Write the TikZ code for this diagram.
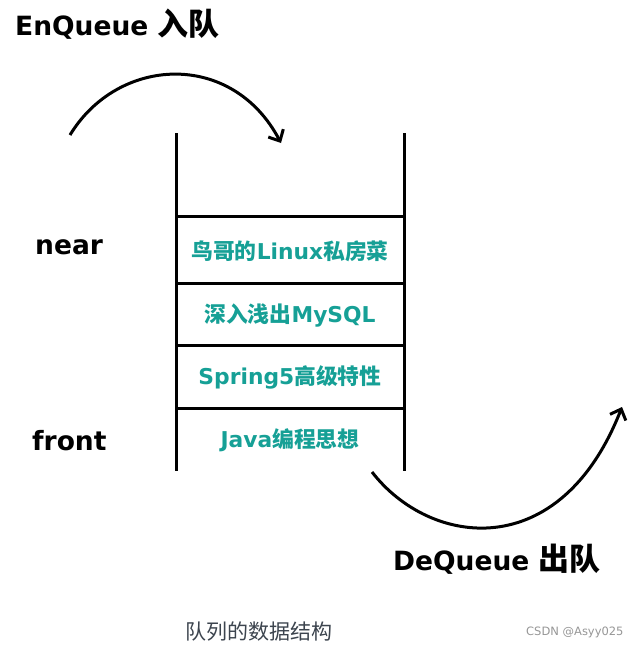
\documentclass[tikz,border=0pt]{standalone}
\usepackage{fontspec}
\usetikzlibrary{arrows.meta}
\newfontfamily\latf{DejaVu Sans}
\newfontfamily\cjkf{Noto Sans CJK SC}
\definecolor{bookteal}{RGB}{22,160,150}
\definecolor{capgray}{RGB}{60,68,78}
\definecolor{wmgray}{RGB}{150,150,150}
\newcommand\cj[1]{{\cjkf #1}}
\newcommand\bigcj[1]{{\cjkf\fontsize{31}{32}\selectfont #1}}
\begin{document}
\begin{tikzpicture}[x=1pt,y=-1pt,
  stackline/.style={line width=3pt,black},
  book/.style={text=bookteal,font={\latf\bfseries\fontsize{21.8}{25}\selectfont},inner sep=0pt,anchor=base},
  biglabel/.style={font={\latf\bfseries\fontsize{26.5}{30}\selectfont},inner sep=0pt,anchor=base west},
  flow/.style={line width=3pt,-{Straight Barb[length=9pt,width=17pt]}}]
\useasboundingbox (0,0) rectangle (636,648);
% stack walls
\coordinate (tl) at (176,133);
\coordinate (bl) at (176,471);
\coordinate (tr) at (404,133);
\coordinate (br) at (404,471);
\draw[stackline] (tl) -- (bl);
\draw[stackline] (tr) -- (br);
% separators
\coordinate (l1) at (176,216); \coordinate (r1) at (404,216);
\coordinate (l2) at (176,283); \coordinate (r2) at (404,283);
\coordinate (l3) at (176,345); \coordinate (r3) at (404,345);
\coordinate (l4) at (176,408); \coordinate (r4) at (404,408);
\draw[stackline] (l1) -- (r1);
\draw[stackline] (l2) -- (r2);
\draw[stackline] (l3) -- (r3);
\draw[stackline] (l4) -- (r4);
% books
\node[book] (b1) at (290,259) {\cj{鸟哥的}Linux\cj{私房菜}};
\node[book] (b2) at (290,322) {\cj{深入浅出}MySQL};
\node[book] (b3) at (290,384) {Spring5\cj{高级特性}};
\node[book] (b4) at (290,447) {Java\cj{编程思想}};
% labels
\node[biglabel] (enq) at (15,35) {EnQueue \bigcj{入队}};
\node[biglabel] (near) at (35,254) {near};
\node[biglabel] (front) at (32,450) {front};
\node[biglabel] (deq) at (393,570) {DeQueue \bigcj{出队}};
% arrows
\coordinate (ein) at (70,135);
\coordinate (eout) at (281,143);
\draw[flow] (ein) .. controls (118,56) and (232,50) .. (eout);
\coordinate (din) at (372,472);
\coordinate (dout) at (622,407);
\draw[flow] (din) .. controls (430,547) and (560,565) .. (dout);
% caption and watermark
\node[text=capgray,font={\cjkf\fontsize{21}{24}\selectfont},inner sep=0pt] (cap) at (259,632) {队列的数据结构};
\node[text=wmgray,font={\latf\fontsize{11.5}{14}\selectfont},inner sep=0pt,anchor=west] (wm) at (526,632) {CSDN @Asyy025};
\end{tikzpicture}
\end{document}
